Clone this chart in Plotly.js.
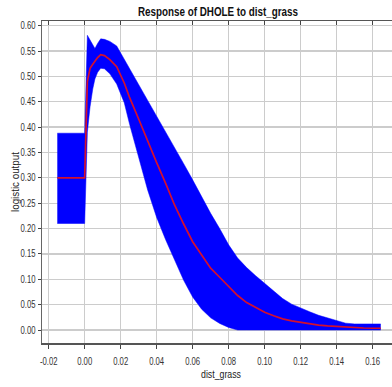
<!DOCTYPE html>
<html>
<head>
<meta charset="utf-8">
<script src="https://cdn.plot.ly/plotly-3.0.1.min.js"></script>
<style>
html,body{margin:0;padding:0;background:#fff;overflow:hidden;}
#chart{width:400px;height:387px;}
</style>
</head>
<body>
<div id="chart"></div>
<script>
// dist_grass sample positions
var xVals = [-0.0152, 0.0, 0.0015, 0.003, 0.0045, 0.0057, 0.0072, 0.0089, 0.011, 0.014, 0.0178, 0.022, 0.025, 0.03, 0.035, 0.04, 0.045, 0.05, 0.055, 0.06, 0.065, 0.07, 0.075, 0.08, 0.085, 0.09, 0.095, 0.1, 0.105, 0.11, 0.115, 0.12, 0.125, 0.13, 0.135, 0.14, 0.145, 0.15, 0.155, 0.16, 0.1645];
// mean + sd
var upperVals = [0.388, 0.388, 0.581, 0.571, 0.561, 0.555, 0.565, 0.574, 0.573, 0.569, 0.560, 0.534, 0.515, 0.484, 0.453, 0.422, 0.392, 0.360, 0.328, 0.296, 0.262, 0.230, 0.200, 0.168, 0.142, 0.123, 0.107, 0.092, 0.077, 0.062, 0.051, 0.043, 0.036, 0.029, 0.024, 0.018, 0.0135, 0.012, 0.012, 0.012, 0.012];
// mean response
var meanVals = [0.300, 0.300, 0.490, 0.516, 0.524, 0.530, 0.537, 0.543, 0.541, 0.533, 0.519, 0.487, 0.458, 0.416, 0.372, 0.330, 0.289, 0.246, 0.209, 0.174, 0.148, 0.122, 0.104, 0.085, 0.068, 0.054, 0.044, 0.035, 0.028, 0.022, 0.018, 0.015, 0.012, 0.0098, 0.0083, 0.007, 0.0055, 0.0045, 0.004, 0.0035, 0.0035];
// mean - sd
var lowerVals = [0.210, 0.210, 0.390, 0.440, 0.475, 0.495, 0.508, 0.516, 0.515, 0.505, 0.485, 0.448, 0.405, 0.338, 0.276, 0.222, 0.178, 0.138, 0.098, 0.065, 0.041, 0.024, 0.013, 0.005, 0, 0, 0, 0, 0, 0, 0, 0, 0, 0, 0, 0, 0, 0, 0, 0, 0];

var xTickVals = [-0.02, 0.0, 0.02, 0.04, 0.06, 0.08, 0.10, 0.12, 0.14, 0.16];
var xTickText = ["-0.02", "0.00", "0.02", "0.04", "0.06", "0.08", "0.10", "0.12", "0.14", "0.16"];
var yTickVals = [0.0, 0.05, 0.10, 0.15, 0.20, 0.25, 0.30, 0.35, 0.40, 0.45, 0.50, 0.55, 0.60];
var yTickText = ["0.00", "0.05", "0.10", "0.15", "0.20", "0.25", "0.30", "0.35", "0.40", "0.45", "0.50", "0.55", "0.60"];

var FONT = "Liberation Sans, Arial, sans-serif";
var xRange = [-0.0237, 0.1752];
var yRange = [-0.0256, 0.6092];

var traces = [
  {x: xVals, y: lowerVals, type: "scatter", mode: "lines", line: {width: 0.5, color: "#0000ff"}, hoverinfo: "skip", showlegend: false},
  {x: xVals, y: upperVals, type: "scatter", mode: "lines", fill: "tonexty", fillcolor: "#0000ff", line: {width: 0.5, color: "#0000ff"}, hoverinfo: "skip", showlegend: false},
  {x: xVals, y: meanVals, type: "scatter", mode: "lines", line: {width: 1.7, color: "#d4102e"}, showlegend: false},
  {x: [xRange[0]], y: [yRange[0]], xaxis: "x2", type: "scatter", mode: "markers", marker: {opacity: 0}, hoverinfo: "skip", showlegend: false}
];

var layout = {
  width: 400, height: 387,
  margin: {l: 42, r: 0, t: 21, b: 44, pad: 0},
  paper_bgcolor: "#ffffff", plot_bgcolor: "#ffffff",
  showlegend: false,
  title: {text: "<b>Response of DHOLE to dist_grass</b>", font: {family: FONT, size: 12, color: "#111"},
          x: 0.4916, xref: "paper", xanchor: "center", y: 0.969, yref: "container", yanchor: "middle"},
  xaxis: {range: xRange, tickvals: xTickVals, ticktext: xTickText, ticks: "outside", ticklen: 4, tickwidth: 1, tickcolor: "#444",
          showline: true, linecolor: "#555", linewidth: 1.5, showgrid: true, gridcolor: "#cccccc", gridwidth: 1.3, zeroline: false,
          ticklabelstandoff: 3,
          tickfont: {family: FONT, size: 10, color: "#333"},
          title: {text: "dist_grass", font: {family: FONT, size: 10.5, color: "#222"}, standoff: 3}},
  xaxis2: {range: xRange, overlaying: "x", side: "top", anchor: "y", tickvals: xTickVals, ticks: "inside", ticklen: 4, tickcolor: "#444",
           showticklabels: false, showline: true, linecolor: "#555", linewidth: 1.5, showgrid: false, zeroline: false},
  yaxis: {range: yRange, tickvals: yTickVals, ticktext: yTickText, ticks: "outside", ticklen: 3, tickwidth: 1, tickcolor: "#444",
          showline: true, linecolor: "#666", linewidth: 1.5, showgrid: true, gridcolor: "#cccccc", gridwidth: 1.3, zeroline: false,
          tickfont: {family: FONT, size: 10, color: "#333"},
          title: {text: "logistic output", font: {family: FONT, size: 10.5, color: "#222"}, standoff: 1}}
};

function condense(sel, factor, target) {
  document.querySelectorAll(sel).forEach(function (el) {
    var len = el.getComputedTextLength();
    if (!len) return;
    el.setAttribute("textLength", target ? target : len * factor);
    el.setAttribute("lengthAdjust", "spacingAndGlyphs");
  });
}

Plotly.newPlot("chart", traces, layout, {displayModeBar: false, staticPlot: true}).then(function () {
  condense("#chart .xtick text", 0.77);
  condense("#chart .ytick text", 0.77);
  condense("#chart text.gtitle", 0, 160);
  condense("#chart text.xtitle", 0, 40);
  condense("#chart text.ytitle", 0, 60);
  // nudge x tick labels down a little
  document.querySelectorAll("#chart .xtick text").forEach(function (el) {
    var y = parseFloat(el.getAttribute("y") || "0");
    el.setAttribute("y", y + 1.5);
  });
  var xt = document.querySelector("#chart text.xtitle");
  if (xt) {
    xt.setAttribute("y", parseFloat(xt.getAttribute("y")) + 2.5);
  }
  // move the y-axis title next to the (now narrower) tick labels
  var yt = document.querySelector("#chart text.ytitle");
  if (yt) {
    var ty = parseFloat(yt.getAttribute("y"));
    var newX = 19;
    yt.setAttribute("x", newX);
    yt.setAttribute("transform", "rotate(-90," + newX + "," + ty + ")");
  }
});
</script>
</body>
</html>
